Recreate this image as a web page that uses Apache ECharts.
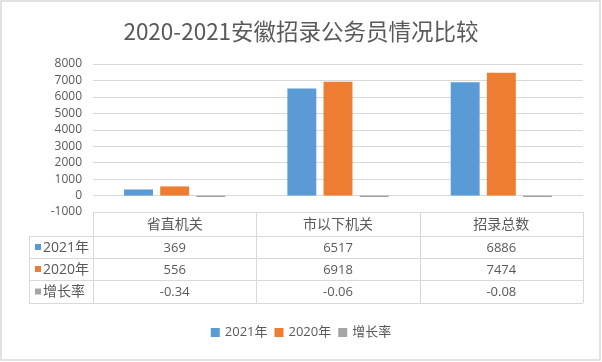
<!DOCTYPE html>
<html><head><meta charset="utf-8">
<script src="https://cdn.jsdelivr.net/npm/echarts@6/dist/echarts.min.js"></script>
<style>html,body{margin:0;padding:0;background:#fff}#c{width:602px;height:362px}</style>
</head><body><div id="c"></div>
<script>
var titleText = '2020-2021安徽招录公务员情况比较';
var categories = ['省直机关', '市以下机关', '招录总数'];
var seriesNames = ['2021年', '2020年', '增长率'];
var values2021 = [369, 6517, 6886];
var values2020 = [556, 6918, 7474];
var growthRate = [-0.34, -0.06, -0.08];
var tableValues = [['369','6517','6886'],['556','6918','7474'],['-0.34','-0.06','-0.08']];
var colors = ['#5B9BD5', '#ED7D31', '#A5A5A5'];

var FONT = "'Open Sans','Noto Sans CJK SC',sans-serif";
var TXT = '#595959';
var LINE = '#d9d9d9';
var gridL = 93, gridR = 19, gridT = 64, gridB = 150;

var chart = echarts.init(document.getElementById('c'), null, {renderer: 'canvas'});
var option = {
  animation: false,
  color: colors,
  title: {
    text: titleText, left: 'center', top: 15,
    textStyle: {fontFamily: "'Noto Sans CJK SC',sans-serif", fontSize: 22.5, fontWeight: 'normal', color: TXT}
  },
  legend: {
    bottom: 18, left: 'center', icon: 'rect', itemWidth: 9, itemHeight: 9, itemGap: 7,
    textStyle: {fontFamily: FONT, fontSize: 13, color: TXT},
    data: seriesNames
  },
  grid: {left: gridL, right: gridR, top: gridT, bottom: gridB, containLabel: false},
  xAxis: {
    type: 'category', data: categories,
    axisLine: {show: false}, axisTick: {show: false}, axisLabel: {show: false}
  },
  yAxis: {
    type: 'value', min: -1000, max: 8000, interval: 1000,
    axisLine: {show: false}, axisTick: {show: false},
    axisLabel: {fontFamily: FONT, fontSize: 12, color: TXT, margin: 11, formatter: function (v) { return String(v); }},
    splitLine: {lineStyle: {color: LINE, width: 1}}
  },
  series: [
    {name: seriesNames[0], type: 'bar', data: values2021, barGap: '25%', barCategoryGap: '38%'},
    {name: seriesNames[1], type: 'bar', data: values2020, barGap: '25%', barCategoryGap: '38%'},
    {name: seriesNames[2], type: 'bar', data: growthRate, barGap: '25%', barCategoryGap: '38%', barMinHeight: 1.5}
  ]
};
chart.setOption(option);

// data table built from the arrays, aligned with the category axis
var g = [];
var W = 602;
var x0 = gridL, x1 = W - gridR;
var catW = (x1 - x0) / categories.length;
var labelX = 29;
var rowTops = [212, 236, 258, 280, 303];
function hline(x, y, x2) { g.push({type: 'line', shape: {x1: x, y1: y + 0.5, x2: x2, y2: y + 0.5}, style: {stroke: LINE, lineWidth: 1}, silent: true}); }
function vline(x, y, y2) { g.push({type: 'line', shape: {x1: x + 0.5, y1: y, x2: x + 0.5, y2: y2}, style: {stroke: LINE, lineWidth: 1}, silent: true}); }
hline(x0, rowTops[0], x1);
for (var r = 1; r < rowTops.length; r++) hline(labelX, rowTops[r], x1);
vline(labelX, rowTops[1], rowTops[4]);
for (var c = 0; c <= categories.length; c++) vline(Math.round(x0 + c * catW), rowTops[0], rowTops[4]);
for (var c = 0; c < categories.length; c++) {
  var cx = chart.convertToPixel({xAxisIndex: 0}, c);
  g.push({type: 'text', style: {text: categories[c], x: cx, y: (rowTops[0] + rowTops[1]) / 2 + 1, textAlign: 'center', textVerticalAlign: 'middle', fontFamily: FONT, fontSize: 14, fill: TXT}});
  for (var r = 0; r < 3; r++) {
    g.push({type: 'text', style: {text: tableValues[r][c], x: cx, y: (rowTops[r + 1] + rowTops[r + 2]) / 2 + 1, textAlign: 'center', textVerticalAlign: 'middle', fontFamily: FONT, fontSize: 13, fill: TXT}});
  }
}
for (var r = 0; r < 3; r++) {
  var cy = (rowTops[r + 1] + rowTops[r + 2]) / 2;
  g.push({type: 'rect', shape: {x: 35, y: cy - 3, width: 6, height: 6}, style: {fill: colors[r]}});
  g.push({type: 'text', style: {text: seriesNames[r], x: 43, y: cy + 1, textAlign: 'left', textVerticalAlign: 'middle', fontFamily: FONT, fontSize: 14, fill: TXT}});
}
// chart area border
g.push({type: 'rect', shape: {x: 1, y: 1, width: 599, height: 359}, style: {fill: 'none', stroke: LINE, lineWidth: 1.5}, silent: true});
chart.setOption({graphic: g});
</script>
</body></html>
